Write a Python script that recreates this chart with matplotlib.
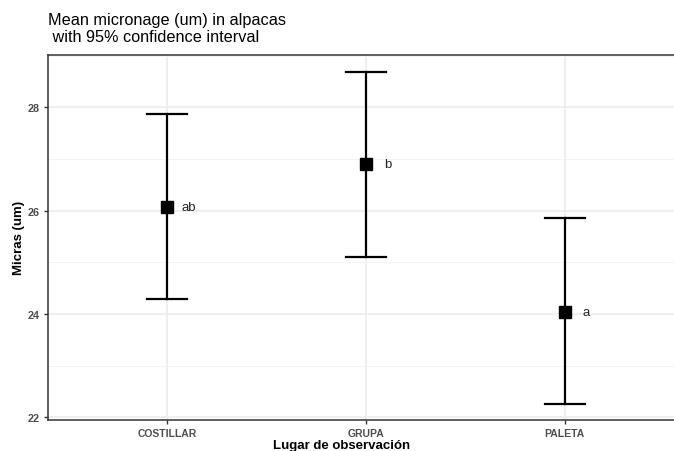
import matplotlib
matplotlib.use("Agg")
import matplotlib.pyplot as plt
from matplotlib.ticker import MultipleLocator

categories = ["COSTILLAR", "GRUPA", "PALETA"]
means = [26.07, 26.90, 24.04]
lower = [24.29, 25.10, 22.25]
upper = [27.87, 28.69, 25.85]
letters = ["ab", "b", "a"]

plt.rcParams['font.family'] = ['Liberation Sans', 'DejaVu Sans']

fig = plt.figure(figsize=(6.74, 4.52), dpi=100)
W, H = 674, 452
ax = fig.add_axes([48 / W, (H - 421) / H, 636 / W, 365 / H])

x = list(range(len(categories)))
for xi, m, lo, hi, lab in zip(x, means, lower, upper, letters):
    ax.plot([xi, xi], [lo, hi], color='black', lw=1.6, zorder=3)
    ax.plot([xi - 0.1, xi + 0.1], [lo, lo], color='black', lw=1.6, zorder=3)
    ax.plot([xi - 0.1, xi + 0.1], [hi, hi], color='black', lw=1.6, zorder=3)
    ax.text(xi + 0.11, m, lab, ha='center', va='center', fontsize=9.5, color='#222222', zorder=4)
ax.plot(x, means, 's', color='black', markersize=8.5, zorder=4, linestyle='none')

ax.set_xlim(-0.6, 2.6)
ax.set_ylim(21.948, 29.01)
ax.set_xticks(x)
ax.set_xticklabels(categories, fontsize=7.5, fontweight='bold', color='#4D4D4D')
ax.yaxis.set_major_locator(MultipleLocator(2))
ax.yaxis.set_minor_locator(MultipleLocator(1))
for lbl in ax.get_yticklabels():
    lbl.set_fontsize(7.8)
    lbl.set_fontweight('bold')
    lbl.set_color('#4D4D4D')
ax.tick_params(axis='both', which='major', length=3, width=1, color='#333333', pad=3)
ax.tick_params(axis='y', which='minor', length=0)
ax.grid(True, which='major', color='#EBEBEB', lw=1.1, zorder=0)
ax.grid(True, which='minor', axis='y', color='#F2F2F2', lw=0.6, zorder=0)
ax.set_axisbelow(True)
for s in ['left', 'bottom', 'top']:
    ax.spines[s].set_color('#333333')
    ax.spines[s].set_linewidth(1.1)
ax.spines['right'].set_visible(False)

fig.text(19 / W, 1 - 238 / H, "Micras (um)", rotation=90, ha='center', va='center',
         fontsize=9.5, fontweight='bold')
fig.text(342 / W, 1 - 446 / H, "Lugar de observación", ha='center', va='center',
         fontsize=9.5, fontweight='bold')
fig.text(48 / W, 1 - 13 / H, "Mean micronage (um) in alpacas\n with 95% confidence interval",
         ha='left', va='top', fontsize=11.7, linespacing=1.15)

fig.savefig("out.png", dpi=100)
